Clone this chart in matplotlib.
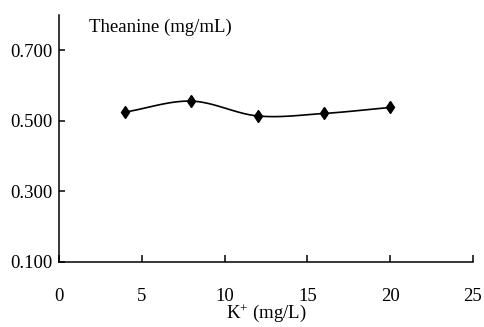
import matplotlib
matplotlib.use('Agg')
import matplotlib.pyplot as plt
import numpy as np

plt.rcParams['font.family'] = ['Liberation Serif', 'DejaVu Serif']
plt.rcParams['mathtext.fontset'] = 'custom'
plt.rcParams['mathtext.rm'] = 'Liberation Serif'
plt.rcParams['mathtext.it'] = 'Liberation Serif'

# Data
k_conc = [4, 8, 12, 16, 20]
theanine = [0.525, 0.556, 0.514, 0.521, 0.538]
x_ticks = [0, 5, 10, 15, 20, 25]
y_ticks = [0.1, 0.3, 0.5, 0.7]


def smooth_curve(x, y, n=30):
    # Catmull-Rom style smoothing through the points (like Excel smoothed line)
    x = np.asarray(x, float)
    y = np.asarray(y, float)
    px = np.concatenate([[2 * x[0] - x[1]], x, [2 * x[-1] - x[-2]]])
    py = np.concatenate([[2 * y[0] - y[1]], y, [2 * y[-1] - y[-2]]])
    xs, ys = [], []
    t = np.linspace(0, 1, n)
    for i in range(1, len(px) - 2):
        for arr, out in ((px, xs), (py, ys)):
            p0, p1, p2, p3 = arr[i - 1], arr[i], arr[i + 1], arr[i + 2]
            seg = 0.5 * (2 * p1 + (-p0 + p2) * t
                         + (2 * p0 - 5 * p1 + 4 * p2 - p3) * t ** 2
                         + (-p0 + 3 * p1 - 3 * p2 + p3) * t ** 3)
            out.extend(seg)
    return np.array(xs), np.array(ys)


fig = plt.figure(figsize=(4.85, 3.27), dpi=100)
ax = fig.add_axes([0.1216, 0.1988, 0.8536, 0.7552])

sx, sy = smooth_curve(k_conc, theanine)
ax.plot(sx, sy, color='black', linewidth=1.2)
ax.plot(k_conc, theanine, linestyle='none', marker='d', markersize=6.5,
        color='black')

ax.set_xlim(0, 25)
ax.set_ylim(0.1, 0.8)
ax.set_xticks(x_ticks)
ax.set_yticks(y_ticks)
ax.set_yticklabels(['%.3f' % v for v in y_ticks])

ax.spines['top'].set_visible(False)
ax.spines['right'].set_visible(False)
for s in ('left', 'bottom'):
    ax.spines[s].set_linewidth(1.1)
ax.tick_params(axis='x', direction='in', length=5, width=1.1, pad=19,
               labelsize=13.5)
ax.tick_params(axis='y', direction='in', length=4, width=1.1, pad=5,
               labelsize=13.5)

ax.text(0.072, 0.985, 'Theanine (mg/mL)', transform=ax.transAxes,
        fontsize=13.5, ha='left', va='top')
ax.set_xlabel(r'K$^{+}$ (mg/L)', fontsize=13.5, labelpad=-2)

fig.savefig('out.png', dpi=100)
